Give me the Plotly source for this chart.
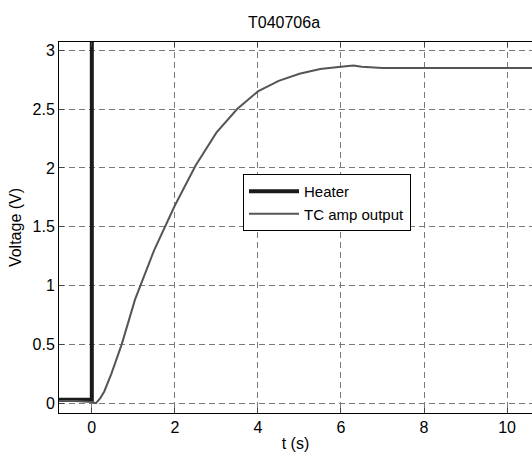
import plotly.graph_objects as go

# Heater signal (V)
heater_t = [-0.8, -0.6, -0.4, -0.2, 0.0, 0.0, 10.7]
heater_v = [0.03, 0.03, 0.03, 0.03, 0.03, 6.0, 6.0]

# TC amplifier output (V)
tc_t = [-0.8, -0.4, 0.0, 0.1, 0.2, 0.3, 0.47, 0.72, 1.04, 1.5, 2.0, 2.5, 3.0, 3.5, 4.0, 4.5, 5.0, 5.5, 6.0, 6.3, 6.5, 7.0, 8.0, 9.0, 10.0, 10.7]
tc_v = [0.02, 0.02, 0.01, 0.0, 0.04, 0.1, 0.25, 0.5, 0.88, 1.3, 1.68, 2.02, 2.3, 2.5, 2.65, 2.74, 2.8, 2.84, 2.86, 2.87, 2.86, 2.85, 2.85, 2.85, 2.85, 2.85]

x_ticks = [0, 2, 4, 6, 8, 10]
y_ticks = [0, 0.5, 1, 1.5, 2, 2.5, 3]
y_tick_labels = ["0", "0.5", "1", "1.5", "2", "2.5", "3"]

FONT = "Liberation Sans, Arial, sans-serif"

fig = go.Figure()
fig.add_trace(go.Scatter(x=heater_t, y=heater_v, mode="lines", name="Heater",
                         line=dict(color="#1a1a1a", width=4)))
fig.add_trace(go.Scatter(x=tc_t, y=tc_v, mode="lines", name="TC amp output",
                         line=dict(color="#555555", width=2)))

fig.update_layout(
    width=532, height=458,
    margin=dict(l=59, r=0, t=42, b=45),
    paper_bgcolor="white", plot_bgcolor="white",
    font=dict(family=FONT, size=15, color="black"),
    showlegend=True,
    legend=dict(x=0.389, y=0.644, xanchor="left", yanchor="top",
                bgcolor="white", bordercolor="black", borderwidth=1,
                font=dict(family=FONT, size=15, color="black"),
                tracegroupgap=0, itemwidth=50),
    annotations=[dict(text="T040706a", xref="paper", yref="paper",
                      x=0.476, y=1.0, yshift=20, xanchor="center", yanchor="middle",
                      showarrow=False, font=dict(family=FONT, size=16, color="black"))],
)
fig.update_xaxes(range=[-0.79, 10.6], tickvals=x_ticks, ticks="inside", ticklen=5,
                 showline=True, linecolor="black", linewidth=1, mirror="ticks",
                 showgrid=True, gridcolor="#7a7a7a", griddash="6px,4px", gridwidth=1,
                 zeroline=False,
                 title=dict(text="t (s)", standoff=2, font=dict(family=FONT, size=16, color="black")),
                 tickfont=dict(size=16))
fig.update_yaxes(range=[-0.083, 3.07], tickvals=y_ticks, ticktext=y_tick_labels,
                 ticks="inside", ticklen=5,
                 showline=True, linecolor="black", linewidth=1, mirror=False,
                 showgrid=True, gridcolor="#7a7a7a", griddash="6px,4px", gridwidth=1,
                 zeroline=False,
                 title=dict(text="Voltage (V)", standoff=6, font=dict(family=FONT, size=16, color="black")),
                 tickfont=dict(size=16))

fig.write_html("out.html")
